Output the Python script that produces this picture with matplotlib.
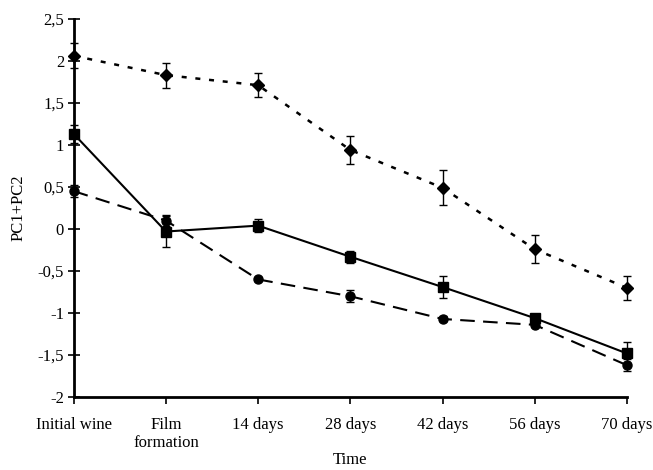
import matplotlib.pyplot as plt

categories = ['Initial wine', 'Film\nformation', '14 days', '28 days', '42 days', '56 days', '70 days']

dotted_vals = [2.06, 1.83, 1.71, 0.94, 0.49, -0.24, -0.70]
dotted_err = [0.15, 0.15, 0.14, 0.17, 0.21, 0.17, 0.14]

solid_vals = [1.13, -0.03, 0.04, -0.33, -0.69, -1.06, -1.48]
solid_err = [0.11, 0.19, 0.08, 0.07, 0.13, 0.04, 0.13]

dashed_vals = [0.45, 0.10, -0.60, -0.80, -1.07, -1.14, -1.62]
dashed_err = [0.07, 0.07, 0.02, 0.07, 0.03, 0.03, 0.07]

plt.rcParams['font.family'] = ['Liberation Serif', 'DejaVu Serif']
plt.rcParams['font.size'] = 12

fig = plt.figure(figsize=(6.53, 4.7), dpi=100)
ax = fig.add_axes([0.113, 0.155, 0.847, 0.805])

x = range(len(categories))
err_kw = dict(ecolor='black', elinewidth=1, capsize=3, capthick=1)

lines = []
lines.append(ax.errorbar(x, dotted_vals, yerr=dotted_err, color='black', linestyle=(0, (2, 3.5)),
                         linewidth=1.8, marker='D', markersize=6, **err_kw))
lines.append(ax.errorbar(x, solid_vals, yerr=solid_err, color='black', linestyle='-',
                         linewidth=1.5, marker='s', markersize=6.5, **err_kw))
lines.append(ax.errorbar(x, dashed_vals, yerr=dashed_err, color='black', linestyle=(0, (7, 4)),
                         linewidth=1.5, marker='o', markersize=6.5, **err_kw))
# let markers sit on the axis edges without clipping
for cont in lines:
    for art in cont.get_children():
        art.set_clip_on(False)

ax.set_xlim(0, 6)
ax.set_ylim(-2, 2.5)
ax.set_xticks(list(x))
ax.set_xticklabels(categories)
yt = [-2, -1.5, -1, -0.5, 0, 0.5, 1, 1.5, 2, 2.5]
ax.set_yticks(yt)
ax.set_yticklabels([('%g' % v).replace('.', ',') for v in yt])

for s in ['top', 'right']:
    ax.spines[s].set_visible(False)
ax.spines['left'].set_linewidth(2)
ax.spines['bottom'].set_linewidth(2)
ax.tick_params(axis='y', direction='inout', length=8, width=1.2, pad=3)
ax.tick_params(axis='x', direction='out', length=5, width=1.2, pad=9)

ax.set_ylabel('PC1+PC2', labelpad=8)
ax.set_xlabel('Time')
ax.xaxis.set_label_coords(0.5, -0.145)

fig.savefig('out.png', dpi=100)
